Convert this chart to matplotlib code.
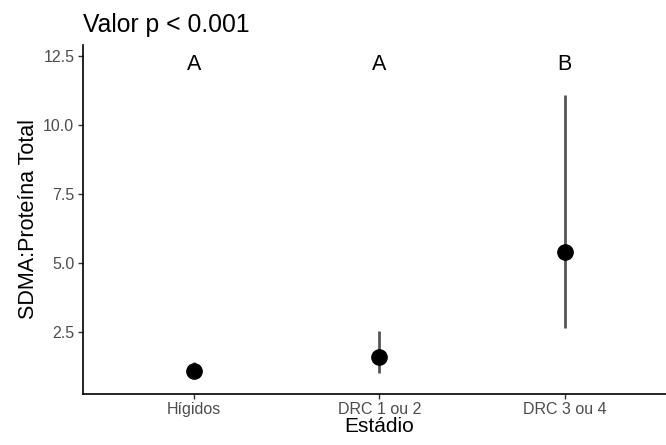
import matplotlib
matplotlib.use("Agg")
import matplotlib.pyplot as plt

plt.rcParams['font.family'] = ['Liberation Sans', 'DejaVu Sans']

estadios = ["Hígidos", "DRC 1 ou 2", "DRC 3 ou 4"]
media = [1.09, 1.6, 5.4]
inferior = [0.85, 1.0, 2.64]
superior = [1.4, 2.52, 11.09]
letras = ["A", "A", "B"]
letra_y = 12.2

fig = plt.figure(figsize=(6.66, 4.45), dpi=100)
ax = fig.add_axes([0.124, 0.1146, 0.891, 0.7845])

xs = [i + 1 for i in range(len(estadios))]
for x, lo, hi in zip(xs, inferior, superior):
    ax.plot([x, x], [lo, hi], color="#555555", lw=2.0, solid_capstyle="butt", zorder=2)
ax.plot(xs, media, "o", color="black", markersize=11, zorder=3)
for x, t in zip(xs, letras):
    ax.text(x, letra_y, t, ha="center", va="center", fontsize=15.5, color="black")

ax.set_xlim(0.4, 3.6)
ax.set_ylim(0.25, 12.9)
ax.set_xticks(xs)
ax.set_xticklabels(estadios)
ax.set_yticks([2.5, 5.0, 7.5, 10.0, 12.5])
ax.set_yticklabels(["2.5", "5.0", "7.5", "10.0", "12.5"])
ax.tick_params(axis="both", labelsize=11.5, labelcolor="#4d4d4d", color="#333333",
               length=3.5, width=1.0, pad=2.5)

for s in ["top", "right"]:
    ax.spines[s].set_visible(False)
for s in ["left", "bottom"]:
    ax.spines[s].set_linewidth(1.2)
    ax.spines[s].set_color("black")

ax.set_xlabel("Estádio", fontsize=15, labelpad=0)
ax.set_ylabel("SDMA:Proteína Total", fontsize=15.5, labelpad=3)
ax.set_title("Valor p < 0.001", loc="left", fontsize=17.8, pad=9)

fig.savefig("out.png", dpi=100)
